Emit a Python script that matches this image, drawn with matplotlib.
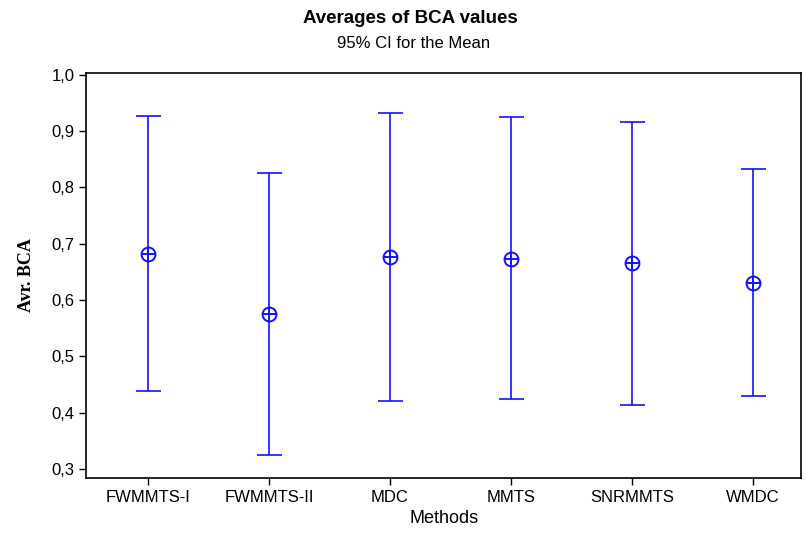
import numpy as np
import matplotlib
matplotlib.use("Agg")
import matplotlib.pyplot as plt
from matplotlib.ticker import FuncFormatter

# Interval plot data
methods = ["FWMMTS-I", "FWMMTS-II", "MDC", "MMTS", "SNRMMTS", "WMDC"]
means = [0.681, 0.576, 0.676, 0.673, 0.665, 0.630]
ci_low = [0.439, 0.325, 0.421, 0.425, 0.414, 0.430]
ci_high = [0.926, 0.826, 0.932, 0.924, 0.915, 0.832]

blue = "#1010ff"
plt.rcParams['font.family'] = ['Liberation Sans', 'DejaVu Sans']

fig = plt.figure(figsize=(8.07, 5.36), dpi=100)
ax = fig.add_axes([0.107, 0.108, 0.886, 0.756])

x = np.arange(len(methods))
means_a = np.array(means)
yerr = np.vstack([means_a - np.array(ci_low), np.array(ci_high) - means_a])

ax.errorbar(x, means_a, yerr=yerr, fmt='none', ecolor=blue, elinewidth=1.2,
            capsize=9, capthick=1.2)
ax.plot(x, means_a, 'o', ms=10, mfc='white', mec=blue, mew=1.4, ls='none')
ax.plot(x, means_a, '+', ms=10, mec=blue, mew=1.4, ls='none')

ax.set_xlim(-0.51, 5.40)
ax.set_ylim(0.284, 1.003)
ax.set_xticks(x)
ax.set_xticklabels(methods, fontsize=12)
ax.set_yticks(np.arange(0.3, 1.01, 0.1))
ax.yaxis.set_major_formatter(FuncFormatter(lambda v, p: f"{v:.1f}".replace('.', ',')))
ax.tick_params(axis='y', labelsize=12)
ax.tick_params(direction='out', length=5, width=1, colors='black')
for s in ax.spines.values():
    s.set_linewidth(1.2)

ax.set_xlabel("Methods", fontsize=13)
ax.set_ylabel("Avr. BCA", fontsize=13, fontweight='bold', family='Liberation Serif', labelpad=12)

fig.text(0.508, 0.965, "Averages of BCA values", ha='center', va='center',
         fontsize=13.5, fontweight='bold')
fig.text(0.513, 0.918, "95% CI for the Mean", ha='center', va='center', fontsize=12)

fig.savefig("out.png", dpi=100)
